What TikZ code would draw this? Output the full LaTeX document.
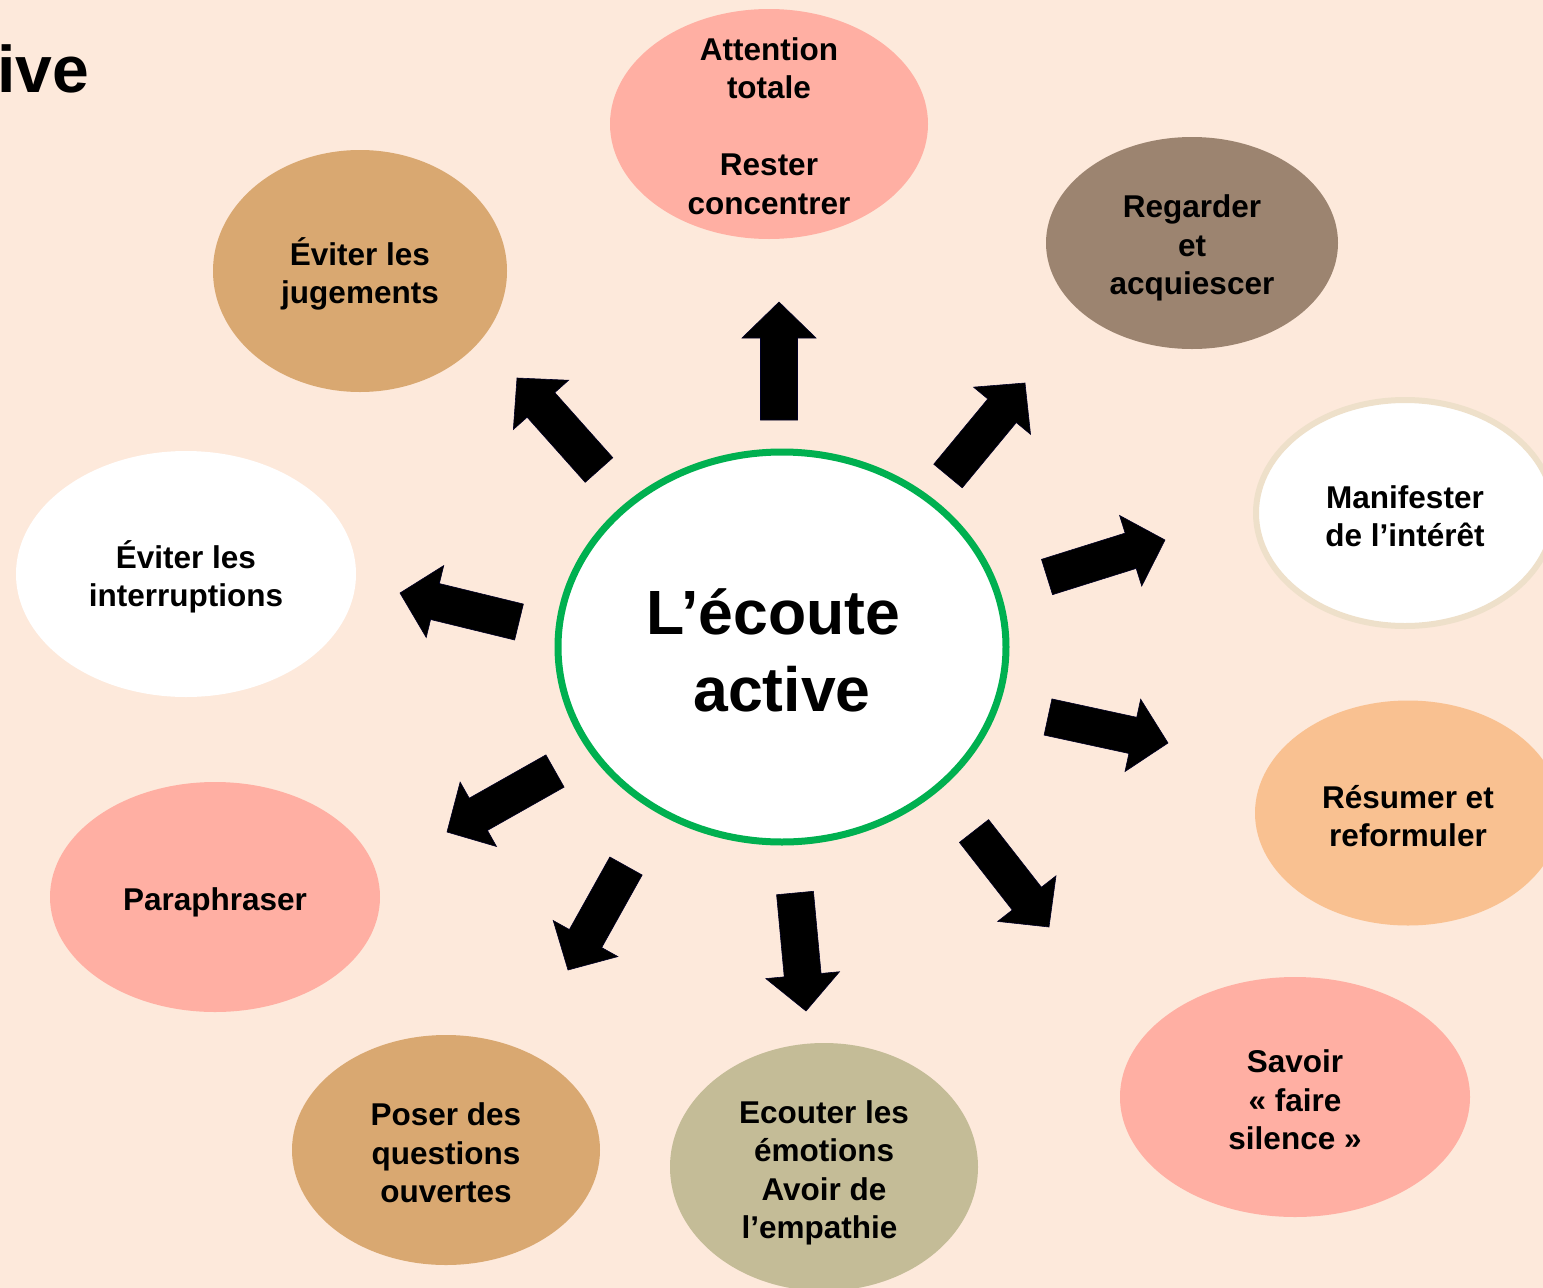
\documentclass[tikz,border=0pt]{standalone}
\usepackage{fontspec}
\setmainfont{Liberation Sans}
\usetikzlibrary{shapes.geometric,calc}
\definecolor{bg}{HTML}{FDE9DB}
\definecolor{salmon}{HTML}{FFAFA3}
\definecolor{taupe}{HTML}{9C8470}
\definecolor{peach}{HTML}{F9C191}
\definecolor{khaki}{HTML}{C4BC97}
\definecolor{tan}{HTML}{D9A871}
\definecolor{beigeline}{HTML}{EEE0CA}
\definecolor{greenline}{HTML}{00B050}
\newcommand\blockarrow[2]{%
  \coordinate (ba-b) at ($(#2)!36pt!(#1)$);
  \filldraw[arrowstyle] ($(#1)!18.5pt!90:(#2)$) -- ($(ba-b)!18.5pt!-90:(#1)$) -- ($(ba-b)!37pt!-90:(#1)$) -- (#2) -- ($(ba-b)!37pt!90:(#1)$) -- ($(ba-b)!18.5pt!90:(#1)$) -- ($(#1)!18.5pt!-90:(#2)$) -- cycle;
}
% text of a bubble, lowered by #2 pixels
\newcommand\bubbletext[3]{%
  \node[btext] (#1-text) at ($(#1.center)+(0,#2)$) {#3};
}
\begin{document}
\begin{tikzpicture}[x=1pt,y=-1pt,
  bubble/.style={ellipse, inner sep=0pt, outer sep=0pt},
  btext/.style={inner sep=0pt, align=center, text=black,
    font=\bfseries\fontsize{31.5}{38.5}\selectfont},
  arrowstyle/.style={fill=black, draw=black!85!blue, line width=0.6pt, line join=miter}]
\useasboundingbox (0,0) rectangle (1543,1288);
\clip (0,0) rectangle (1543,1288);
\fill[bg] (0,0) rectangle (1543,1288);

\node[anchor=base east, inner sep=0pt, font=\bfseries\fontsize{66}{70}\selectfont] (title) at (89,92) {ive};

% outer bubbles
\node[bubble, fill=salmon, minimum width=318, minimum height=230] (attention) at (769,124) {};
\node[bubble, fill=taupe, minimum width=292, minimum height=212] (regarder) at (1192,243) {};
\node[bubble, fill=white, draw=beigeline, line width=6pt, minimum width=298, minimum height=226] (manifester) at (1405,513) {};
\node[bubble, fill=peach, minimum width=306, minimum height=225] (resumer) at (1408,813) {};
\node[bubble, fill=salmon, minimum width=350, minimum height=240] (savoir) at (1295,1097) {};
\node[bubble, fill=khaki, minimum width=308, minimum height=248] (ecouter) at (824,1167) {};
\node[bubble, fill=tan, minimum width=308, minimum height=230] (poser) at (446,1150) {};
\node[bubble, fill=salmon, minimum width=330, minimum height=230] (para) at (215,897) {};
\node[bubble, fill=white, minimum width=340, minimum height=246] (interr) at (186,574) {};
\node[bubble, fill=tan, minimum width=294, minimum height=242] (jugements) at (360,271) {};

\bubbletext{attention}{2}{Attention\\totale\\[38.5pt]Rester\\concentrer}
\bubbletext{regarder}{5}{Regarder\\et\\acquiescer}
\bubbletext{manifester}{3}{Manifester\\de l’intérêt}
\bubbletext{resumer}{3}{Résumer et\\reformuler}
\bubbletext{savoir}{3}{Savoir\\« faire\\silence »}
\bubbletext{ecouter}{6}{Ecouter les\\émotions\\Avoir de\\l’empathie\hspace*{9pt}}
\bubbletext{poser}{3}{Poser des\\questions\\ouvertes}
\bubbletext{para}{5}{Paraphraser}
\bubbletext{interr}{3}{Éviter les\\interruptions}
\bubbletext{jugements}{3}{Éviter les\\jugements}

% centre
\node[ellipse, fill=white, draw=greenline, line width=7pt, minimum width=448, minimum height=390, inner sep=0pt] (centre) at (782,647) {};
\node[inner sep=0pt, align=center, font=\bfseries\fontsize{62.5}{77}\selectfont] (centre-text) at ($(centre.center)+(0,3)$) {L’écoute\hspace*{17pt}\\active};

% arrows
\coordinate (t1) at (779,420);  \coordinate (h1) at (779,302);
\coordinate (t2) at (948,476);  \coordinate (h2) at (1025,383);
\coordinate (t3) at (1047,577); \coordinate (h3) at (1165,540);
\coordinate (t4) at (1048,717); \coordinate (h4) at (1168,743);
\coordinate (t5) at (974,831);  \coordinate (h5) at (1049,927);
\coordinate (t6) at (795,893);  \coordinate (h6) at (806,1011);
\coordinate (t7) at (626,866);  \coordinate (h7) at (568,970);
\coordinate (t8) at (555,771);  \coordinate (h8) at (447,832);
\coordinate (t9) at (519,622);  \coordinate (h9) at (400,593);
\coordinate (t10) at (599,470); \coordinate (h10) at (517,378);
\blockarrow{t1}{h1}
\blockarrow{t2}{h2}
\blockarrow{t3}{h3}
\blockarrow{t4}{h4}
\blockarrow{t5}{h5}
\blockarrow{t6}{h6}
\blockarrow{t7}{h7}
\blockarrow{t8}{h8}
\blockarrow{t9}{h9}
\blockarrow{t10}{h10}
\end{tikzpicture}
\end{document}
